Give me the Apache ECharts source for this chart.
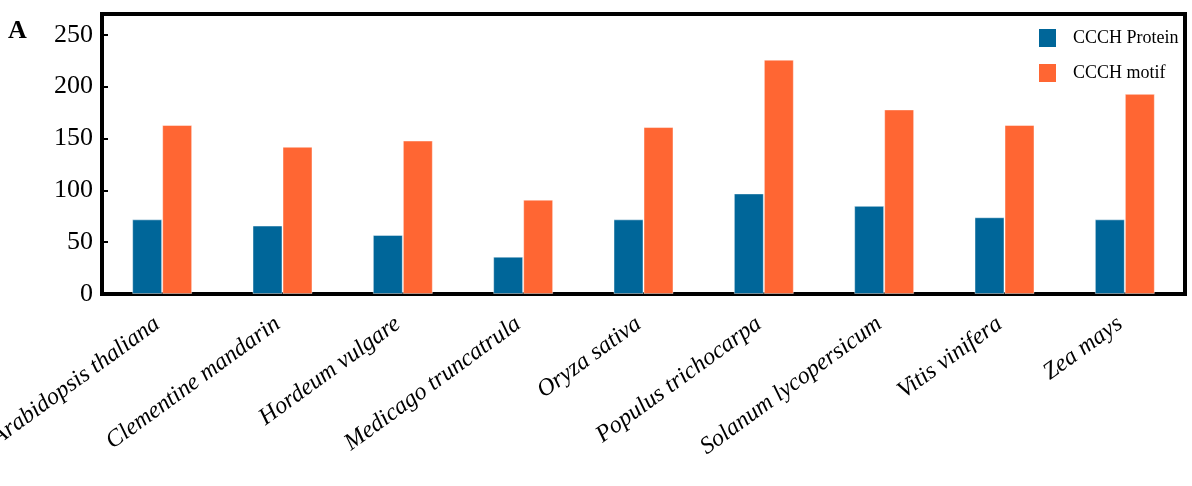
<!DOCTYPE html>
<html>
<head>
<meta charset="utf-8">
<script src="https://cdn.jsdelivr.net/npm/echarts@6/dist/echarts.min.js"></script>
<style>
  html, body { margin: 0; padding: 0; background: #fff; }
  #chart { width: 1192px; height: 486px; }
</style>
</head>
<body>
<div id="chart"></div>
<script>
// Species compared
const species = [
  'Arabidopsis thaliana', 'Clementine mandarin', 'Hordeum vulgare',
  'Medicago truncatrula', 'Oryza sativa', 'Populus trichocarpa',
  'Solanum lycopersicum', 'Vitis vinifera', 'Zea mays'
];
// Number of CCCH proteins per species
const proteinCounts = [72, 66, 57, 36, 72, 97, 85, 74, 72];
// Number of CCCH motifs per species
const motifCounts = [163, 142, 148, 91, 161, 226, 178, 163, 193];
// Value axis ticks
const yTicks = [0, 50, 100, 150, 200, 250];

const serif = '"Liberation Serif", "Times New Roman", serif';
const chart = echarts.init(document.getElementById('chart'));

chart.setOption({
  animation: false,
  title: {
    text: 'A',
    left: 8,
    top: 18,
    padding: 0,
    textStyle: { fontFamily: serif, fontSize: 26, fontWeight: 'bold', color: '#000' }
  },
  legend: {
    orient: 'vertical',
    left: 1039,
    top: 28,
    padding: 0,
    itemWidth: 17,
    itemHeight: 18,
    itemGap: 15,
    icon: 'rect',
    itemStyle: { borderWidth: 0 },
    textStyle: {
      fontFamily: serif, fontSize: 18, color: '#000', lineHeight: 20,
      padding: [0, 0, 0, 12]
    },
    data: ['CCCH Protein', 'CCCH motif']
  },
  grid: {
    left: 102, right: 7, top: 14, bottom: 192,
    show: true, borderColor: '#000', borderWidth: 4,
    outerBoundsMode: 'none',
    containLabel: false
  },
  xAxis: {
    type: 'category',
    data: species,
    axisLine: { show: false },
    axisTick: { show: false },
    axisLabel: {
      interval: 0,
      rotate: 36,
      margin: 24,
      padding: [0, 6, 0, 0],
      fontFamily: serif,
      fontStyle: 'italic',
      fontSize: 24,
      color: '#000'
    }
  },
  yAxis: {
    type: 'value',
    min: yTicks[0],
    max: 270,
    interval: yTicks[1] - yTicks[0],
    splitLine: { show: false },
    axisLine: { show: true, lineStyle: { color: '#000', width: 4 } },
    axisTick: { show: true, inside: true, length: 6, lineStyle: { color: '#000', width: 2 } },
    axisLabel: {
      showMaxLabel: false,
      margin: 9,
      fontFamily: serif,
      fontSize: 26,
      color: '#000'
    }
  },
  series: [
    {
      name: 'CCCH Protein',
      type: 'bar',
      data: proteinCounts,
      barWidth: 30,
      barGap: '0%',
      itemStyle: { color: '#006699', borderColor: 'rgba(255,255,255,0.45)', borderWidth: 1 }
    },
    {
      name: 'CCCH motif',
      type: 'bar',
      data: motifCounts,
      barWidth: 30,
      barGap: '0%',
      itemStyle: { color: '#ff6633', borderColor: 'rgba(255,255,255,0.45)', borderWidth: 1 }
    }
  ]
});
</script>
</body>
</html>
